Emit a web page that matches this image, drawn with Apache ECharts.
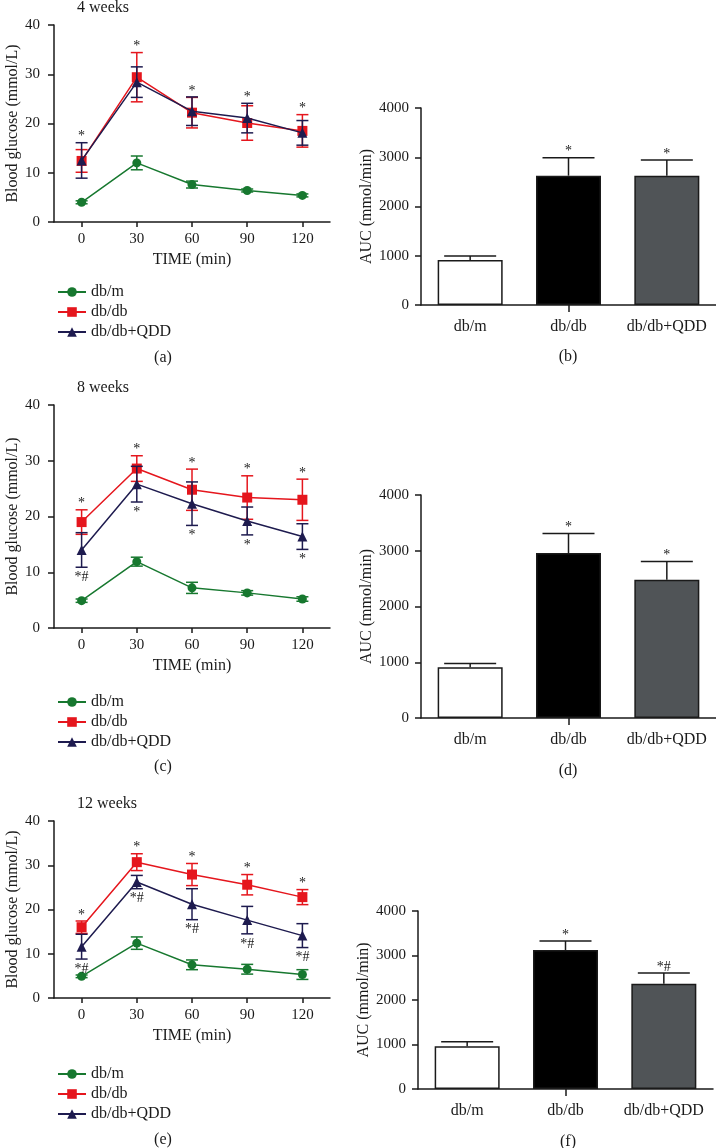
<!DOCTYPE html>
<html>
<head>
<meta charset="utf-8">
<script src="https://cdn.jsdelivr.net/npm/echarts@6/dist/echarts.min.js"></script>
<style>
    html, body {margin: 0; padding: 0; background: #fff;}
    #chart {width: 716px; height: 1148px;}
</style>
</head>
<body>
<div id="chart"></div>
<script>
// x categories and group names
const timeLabels = ['0', '30', '60', '90', '120'];
const groups = ['db/m', 'db/db', 'db/db+QDD'];

// 4 weeks OGTT (mean, sd)
const w4_dbm = [4.0, 12.0, 7.6, 6.4, 5.4];
const w4_dbm_sd = [0.3, 1.4, 0.7, 0.3, 0.3];
const w4_dbdb = [12.4, 29.4, 22.2, 20.1, 18.5];
const w4_dbdb_sd = [2.3, 5.0, 3.1, 3.5, 3.3];
const w4_qdd = [12.5, 28.4, 22.5, 21.1, 18.1];
const w4_qdd_sd = [3.6, 3.1, 2.9, 3.0, 2.5];
const w4_above = ['*', '*', '*', '*', '*'];
const w4_below = ['', '', '', '', ''];

// 8 weeks
const w8_dbm = [4.9, 11.9, 7.2, 6.3, 5.2];
const w8_dbm_sd = [0.3, 0.8, 1.0, 0.4, 0.4];
const w8_dbdb = [19.0, 28.6, 24.8, 23.4, 23.0];
const w8_dbdb_sd = [2.2, 2.3, 3.7, 3.9, 3.7];
const w8_qdd = [14.0, 25.8, 22.3, 19.2, 16.4];
const w8_qdd_sd = [3.1, 3.2, 3.9, 2.5, 2.3];
const w8_above = ['*', '*', '*', '*', '*'];
const w8_below = ['*#', '*', '*', '*', '*'];

// 12 weeks
const w12_dbm = [4.9, 12.4, 7.5, 6.5, 5.3];
const w12_dbm_sd = [0.3, 1.4, 1.1, 1.1, 1.1];
const w12_dbdb = [16.0, 30.7, 27.9, 25.6, 22.8];
const w12_dbdb_sd = [1.4, 1.9, 2.5, 2.3, 1.7];
const w12_qdd = [11.6, 26.2, 21.2, 17.6, 14.1];
const w12_qdd_sd = [2.8, 1.5, 3.5, 3.1, 2.7];
const w12_above = ['*', '*', '*', '*', '*'];
const w12_below = ['*#', '*#', '*#', '*#', '*#'];

// AUC bars
const auc4 = [914, 2626, 2626];
const auc4_sd = [81, 365, 318];
const auc4_marks = ['', '*', '*'];
const auc8 = [912, 2958, 2481];
const auc8_sd = [66, 352, 328];
const auc8_marks = ['', '*', '*'];
const auc12 = [959, 3124, 2367];
const auc12_sd = [105, 202, 240];
const auc12_marks = ['', '*', '*#'];

const FONT = '"Liberation Serif", "DejaVu Serif", serif';
const GREEN = '#17782f', RED = '#e5161d', NAVY = '#1e1b4f';
const INK = '#1a1a1a';
const BAR_COLORS = ['#ffffff', '#000000', '#505457'];

const axisLine = {show: true, lineStyle: {color: INK, width: 1.5}};
const tickStyle = {color: INK, width: 1.5};
const labelStyle = {fontFamily: FONT, fontSize: 15, color: INK};
const nameStyle = {fontFamily: FONT, fontSize: 16, color: INK};

function error_render(color, half) {
    return function (params, api) {
        let x = api.value(0), m = api.value(1), sd = api.value(2);
        let top = api.coord([x, m + sd]);
        let bot = api.coord([x, m - sd]);
        let st = {stroke: color, lineWidth: 1.5};
        return {
            type: 'group',
            children: [
                {type: 'line', shape: {x1: top[0], y1: top[1], x2: bot[0], y2: bot[1]}, style: st},
                {type: 'line', shape: {x1: top[0] - half, y1: top[1], x2: top[0] + half, y2: top[1]}, style: st},
                {type: 'line', shape: {x1: bot[0] - half, y1: bot[1], x2: bot[0] + half, y2: bot[1]}, style: st},
            ]
        };
    };
}

function bar_error_render(params, api) {
    let x = api.value(0), m = api.value(1), sd = api.value(2);
    let top = api.coord([x, m + sd]);
    let base = api.coord([x, m]);
    let st = {stroke: INK, lineWidth: 1.5};
    return {
        type: 'group',
        children: [
            {type: 'line', shape: {x1: base[0], y1: base[1], x2: top[0], y2: top[1]}, style: st},
            {type: 'line', shape: {x1: top[0] - 26, y1: top[1], x2: top[0] + 26, y2: top[1]}, style: st},
        ]
    };
}

function mark_render(texts, dy) {
    return function (params, api) {
        let t = texts[params.dataIndex];
        if (!t) return null;
        let p = api.coord([api.value(0), api.value(1)]);
        return {
            type: 'text',
            x: p[0], y: p[1] + dy,
            style: {
                text: t, fill: INK, font: '14px ' + FONT,
                align: 'center', verticalAlign: 'middle',
                textAlign: 'center', textVerticalAlign: 'middle'
            }
        };
    };
}

const grids = [];
const xAxes = [];
const yAxes = [];
const series = [];
const legends = [];
const graphics = [];

function add_text(x, y, text, align) {
    graphics.push({
        type: 'text', x: x, y: y,
        style: {
            text: text, fill: INK, font: '16px ' + FONT,
            align: align, verticalAlign: 'middle',
            textAlign: align, textVerticalAlign: 'middle'
        }
    });
}

function add_line_panel(top, height, title, caption, legendTop, dbm, dbmSd, dbdb, dbdbSd, qdd, qddSd, above, below) {
    let gi = grids.length;
    grids.push({left: 54, width: 276, top: top, height: height});
    xAxes.push({
        type: 'category', gridIndex: gi, data: timeLabels, boundaryGap: true,
        name: 'TIME (min)', nameLocation: 'middle', nameGap: 30, nameTextStyle: nameStyle,
        axisLine: axisLine,
        axisTick: {show: true, alignWithLabel: true, length: 5, lineStyle: tickStyle},
        axisLabel: Object.assign({margin: 10, interval: 0}, labelStyle),
        splitLine: {show: false}
    });
    yAxes.push({
        type: 'value', gridIndex: gi, min: 0, max: 40, interval: 10,
        name: 'Blood glucose (mmol/L)', nameLocation: 'middle', nameGap: 33, nameTextStyle: nameStyle,
        axisLine: axisLine,
        axisTick: {show: true, length: 6, lineStyle: tickStyle},
        axisLabel: Object.assign({margin: 14, formatter: (v) => String(v)}, labelStyle),
        splitLine: {show: false}
    });

    let sets = [
        {name: 'db/m', m: dbm, sd: dbmSd, color: GREEN, symbol: 'circle', size: 9},
        {name: 'db/db', m: dbdb, sd: dbdbSd, color: RED, symbol: 'rect', size: 10},
        {name: 'db/db+QDD', m: qdd, sd: qddSd, color: NAVY, symbol: 'triangle', size: 10},
    ];
    sets.forEach(function (s, k) {
        series.push({
            type: 'custom', name: s.name + ' err', xAxisIndex: gi, yAxisIndex: gi,
            data: s.m.map((v, i) => [i, v, s.sd[i]]),
            renderItem: error_render(s.color, 6), z: 2 + k * 2, silent: true
        });
        series.push({
            type: 'line', name: s.name, xAxisIndex: gi, yAxisIndex: gi, data: s.m,
            symbol: s.symbol, symbolSize: s.size, color: s.color,
            itemStyle: {color: s.color},
            lineStyle: {color: s.color, width: 1.5}, z: 3 + k * 2
        });
    });

    series.push({
        type: 'custom', name: 'above', xAxisIndex: gi, yAxisIndex: gi, silent: true, z: 10,
        data: dbdb.map((v, i) => [i, Math.max(v + dbdbSd[i], qdd[i] + qddSd[i])]),
        renderItem: mark_render(above, -6)
    });
    series.push({
        type: 'custom', name: 'below', xAxisIndex: gi, yAxisIndex: gi, silent: true, z: 10,
        data: qdd.map((v, i) => [i, v - qddSd[i]]),
        renderItem: mark_render(below, 10)
    });

    legends.push({
        orient: 'vertical', left: 52, top: legendTop,
        itemWidth: 28, itemHeight: 12, itemGap: 4,
        data: groups, selectedMode: false,
        textStyle: {fontFamily: FONT, fontSize: 16, color: INK, lineHeight: 16}
    });
    add_text(77, top - 17, title, 'left');
    add_text(163, caption, '(' + String.fromCharCode(97 + gi) + ')', 'center');
}

function add_bar_panel(left, top, height, caption, vals, sds, marks) {
    let gi = grids.length;
    grids.push({left: left, width: 295, top: top, height: height});
    xAxes.push({
        type: 'category', gridIndex: gi, data: groups,
        axisLine: axisLine,
        axisTick: {show: true, alignWithLabel: true, length: 7, lineStyle: tickStyle, interval: (i) => i === 1},
        axisLabel: Object.assign({margin: 14, interval: 0}, nameStyle),
        splitLine: {show: false}
    });
    yAxes.push({
        type: 'value', gridIndex: gi, min: 0, max: 4000, interval: 1000,
        name: 'AUC (mmol/min)', nameLocation: 'middle', nameGap: 35, nameTextStyle: nameStyle,
        axisLine: axisLine,
        axisTick: {show: true, length: 6, lineStyle: tickStyle},
        axisLabel: Object.assign({margin: 12, formatter: (v) => String(v)}, labelStyle),
        splitLine: {show: false}
    });
    series.push({
        type: 'bar', name: 'AUC', xAxisIndex: gi, yAxisIndex: gi, barWidth: 65,
        data: vals.map((v, i) => ({value: v, itemStyle: {color: BAR_COLORS[i], borderColor: INK, borderWidth: 1.5}})),
        z: 2
    });
    series.push({
        type: 'custom', name: 'AUC err', xAxisIndex: gi, yAxisIndex: gi, silent: true, z: 3,
        data: vals.map((v, i) => [i, v, sds[i]]),
        renderItem: bar_error_render
    });
    series.push({
        type: 'custom', name: 'AUC mark', xAxisIndex: gi, yAxisIndex: gi, silent: true, z: 4,
        data: vals.map((v, i) => [i, v + sds[i]]),
        renderItem: mark_render(marks, -6)
    });
    add_text(568, caption, '(' + String.fromCharCode(97 + gi) + ')', 'center');
}

add_line_panel(25, 197, '4 weeks', 358, 279, w4_dbm, w4_dbm_sd, w4_dbdb, w4_dbdb_sd, w4_qdd, w4_qdd_sd, w4_above, w4_below);
add_bar_panel(421, 108, 197, 357, auc4, auc4_sd, auc4_marks);
add_line_panel(405, 223, '8 weeks', 767, 689, w8_dbm, w8_dbm_sd, w8_dbdb, w8_dbdb_sd, w8_qdd, w8_qdd_sd, w8_above, w8_below);
add_bar_panel(421, 495, 223, 771, auc8, auc8_sd, auc8_marks);
add_line_panel(821, 177, '12 weeks', 1140, 1061, w12_dbm, w12_dbm_sd, w12_dbdb, w12_dbdb_sd, w12_qdd, w12_qdd_sd, w12_above, w12_below);
add_bar_panel(418, 911, 178, 1142, auc12, auc12_sd, auc12_marks);

let chart = echarts.init(document.getElementById('chart'), null, {renderer: 'canvas'});
chart.setOption({
    animation: false,
    backgroundColor: '#fff',
    textStyle: {fontFamily: FONT},
    grid: grids,
    xAxis: xAxes,
    yAxis: yAxes,
    legend: legends,
    series: series,
    graphic: graphics
});
</script>
</body>
</html>
